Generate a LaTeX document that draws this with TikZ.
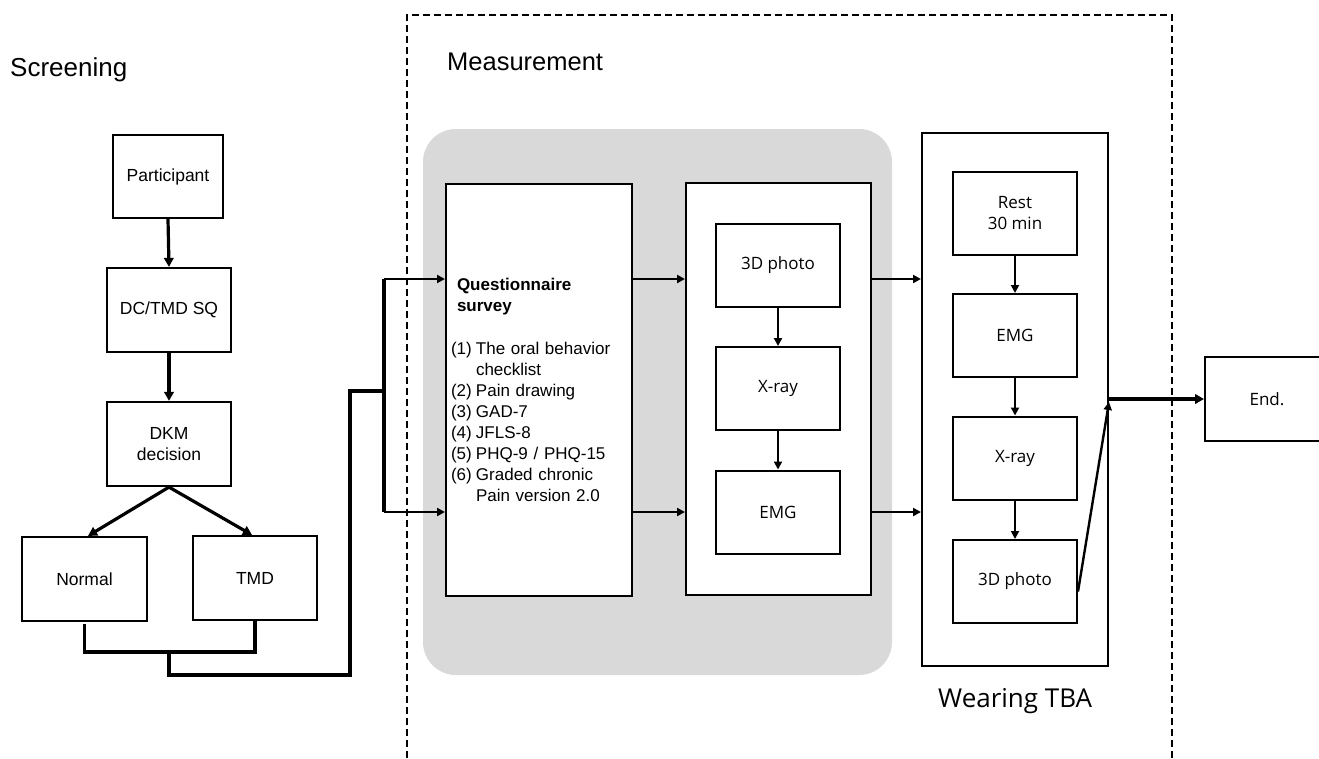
\documentclass[tikz,border=0pt]{standalone}
\usepackage{fontspec}
\setmainfont{Liberation Sans}
\newfontfamily\kfont{Open Sans}
\usetikzlibrary{arrows.meta,calc}
\definecolor{grayfill}{RGB}{217,217,217}
\begin{document}
\begin{tikzpicture}[x=1pt,y=-1pt,
  sbox/.style={draw, line width=2.2pt, inner sep=0pt, minimum width=124pt, minimum height=84pt, align=center, font=\fontsize{17.5}{21}\selectfont},
  kbox/.style={draw, line width=2pt, inner sep=0pt, minimum width=124pt, minimum height=83pt, align=center, font=\kfont\fontsize{17}{21}\selectfont},
  cont/.style={draw, line width=2pt, fill=white, inner sep=0pt},
  heavyarr/.style={line width=3.2pt, -{Triangle[length=9pt,width=9.5pt]}},
  heavyline/.style={line width=3.2pt},
  thinarr/.style={line width=2.2pt, -{Triangle[length=8pt,width=8pt]}},
  lbl/.style={inner sep=0pt, font=\fontsize{26}{30}\selectfont},
  frame/.style={line width=2.2pt, dash pattern=on 7pt off 4pt}
]
\useasboundingbox (0,0) rectangle (1319,758);
\fill[white] (0,0) rectangle (1319,758);

% measurement frame
\draw[frame] (407,758) -- (407,15) -- (1172,15) -- (1172,758);

% labels
\node[lbl, anchor=base west] (screenlbl) at (10,76) {Screening};
\node[lbl, anchor=base west, font=\fontsize{25.5}{30}\selectfont] (measlbl) at (447,70) {Measurement};
\node[lbl, anchor=base west, font=\kfont\fontsize{26}{30}\selectfont] (wearlbl) at (938,707) {Wearing TBA};

% grey panel
\fill[grayfill, rounded corners=33pt] (423,129) rectangle (892,675);

% screening
\node[sbox, minimum width=110pt, minimum height=83pt] (part) at (168,176.5) {Participant};
\node[sbox] (dcsq) at (169,310) {DC/TMD SQ};
\node[sbox] (dkm) at (169,444) {DKM\\decision};
\node[sbox, minimum width=125pt] (normal) at (84.5,579) {Normal};
\node[sbox] (tmd) at (255,578) {TMD};

\draw[heavyarr] (part.south) -- (dcsq.north);
\draw[heavyarr] (dcsq.south) -- (dkm.north);
\draw[heavyarr] (dkm.south) -- ($(normal.north)+(3.5,0)$);
\draw[heavyarr] (dkm.south) -- ($(tmd.north)+(-3,0)$);

\coordinate (join) at (169,652);
\coordinate (split) at (384,391);
\coordinate (rowA) at (0,279);
\coordinate (rowB) at (0,512);
\draw[heavyline] ($(normal.south)+(0,2)$) |- (join) -| (tmd.south);
\draw[heavyline] (join) |- (350,675) |- (split);

% questionnaire
\node[draw, line width=2pt, fill=white, inner sep=0pt, minimum width=186pt, minimum height=412pt,
      text width=176pt, align=left, font=\fontsize{17}{21}\selectfont] (quest) at (539,390)
  {\hspace*{6pt}\textbf{Questionnaire}\\
   \hspace*{6pt}\textbf{survey}\\[22pt]
   \makebox[25pt][l]{(1)}The oral behavior\\
   \hspace*{25pt}checklist\\
   \makebox[25pt][l]{(2)}Pain drawing\\
   \makebox[25pt][l]{(3)}GAD-7\\
   \makebox[25pt][l]{(4)}JFLS-8\\
   \makebox[25pt][l]{(5)}PHQ-9 / PHQ-15\\
   \makebox[25pt][l]{(6)}Graded chronic\\
   \hspace*{25pt}Pain version 2.0};

\draw[heavyline] (split |- rowA) -- (split |- rowB);
\draw[thinarr, line width=2.8pt] (split |- rowA) -- (quest.west |- rowA);
\draw[thinarr, line width=2.8pt] (split |- rowB) -- (quest.west |- rowB);

% second container
\node[cont, minimum width=185pt, minimum height=412pt] (meas2) at (778.5,389) {};
\node[kbox] (photo1) at (778,265.5) {3D photo};
\node[kbox] (xray1) at (778,388.5) {X-ray};
\node[kbox] (emg1) at (778,512) {EMG};
\draw[thinarr, line width=2.4pt] (photo1.south) -- (xray1.north);
\draw[thinarr, line width=2.4pt] (xray1.south) -- (emg1.north);

\draw[thinarr] (quest.east |- rowA) -- (meas2.west |- rowA);
\draw[thinarr] (quest.east |- rowB) -- (meas2.west |- rowB);

% third container
\node[cont, minimum width=186pt, minimum height=533pt] (wear) at (1015,399.5) {};
\node[kbox] (rest) at (1015,213.5) {Rest\\30 min};
\node[kbox] (emg2) at (1015,335.5) {EMG};
\node[kbox] (xray2) at (1015,458) {X-ray};
\node[kbox] (photo2) at (1015,581.5) {3D photo};
\draw[thinarr, line width=1.8pt] (rest.south) -- (emg2.north);
\draw[thinarr, line width=1.8pt] (emg2.south) -- (xray2.north);
\draw[thinarr, line width=1.8pt] (xray2.south) -- (photo2.north);

\draw[thinarr, line width=2.8pt] (meas2.east |- rowA) -- (wear.west |- rowA);
\draw[thinarr, line width=2.8pt] (meas2.east |- rowB) -- (wear.west |- rowB);

% end
\node[kbox, minimum width=124pt, minimum height=84pt] (endbox) at (1267,399) {End.};
\draw[thinarr, line width=2.4pt] ($(photo2.east)+(0,10)$) -- ($(wear.east)+(0,2.5)$);
\draw[heavyarr] (wear.east |- endbox) -- (endbox.west);
\end{tikzpicture}
\end{document}
